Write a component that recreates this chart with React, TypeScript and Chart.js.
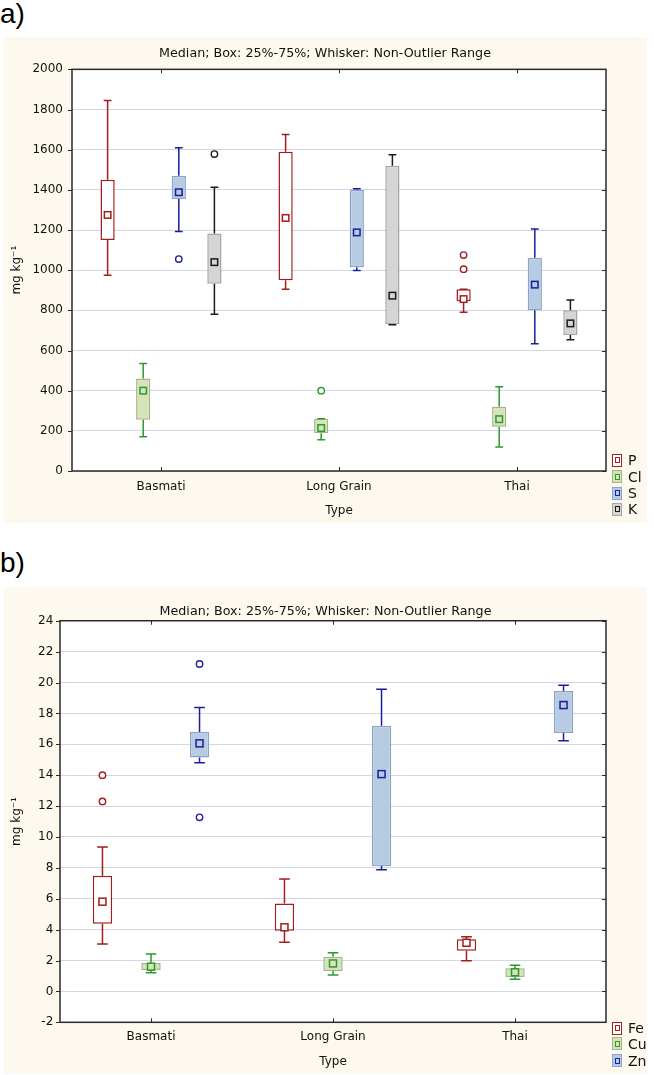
import React, { useEffect, useRef } from 'react';
import { Chart, registerables } from 'chart.js';

Chart.register(...registerables);

// ---------- data ----------
const CATEGORIES = ['Basmati', 'Long Grain', 'Thai'];
const TITLE = 'Median; Box: 25%-75%; Whisker: Non-Outlier Range';
const X_TITLE = 'Type';
const Y_TITLE = 'mg kg\u207B\u00B9';

// each row: [lower whisker, Q1, median, Q3, upper whisker] per category
const P_STATS = [[975, 1150, 1275, 1450, 1845], [905, 950, 1260, 1590, 1675], [790, 845, 856, 905, 905]];
const P_OUTLIERS = [[], [], [1075, 1005]];
const CL_STATS = [[170, 255, 400, 460, 535], [155, 188, 214, 260, 260], [120, 220, 258, 320, 420]];
const CL_OUTLIERS = [[], [400], []];
const S_STATS = [[1193, 1354, 1388, 1470, 1610], [998, 1015, 1188, 1400, 1405], [633, 800, 928, 1062, 1205]];
const S_OUTLIERS = [[1055], [], []];
const K_STATS = [[780, 932, 1040, 1183, 1413], [728, 731, 873, 1520, 1575], [653, 677, 735, 800, 852]];
const K_OUTLIERS = [[1578], [], []];

const FE_STATS = [[3.07, 4.38, 5.81, 7.49, 9.35], [3.18, 3.93, 4.15, 5.7, 7.28], [1.99, 2.63, 3.15, 3.37, 3.54]];
const FE_OUTLIERS = [[14.0, 12.3], [], []];
const CU_STATS = [[1.21, 1.38, 1.6, 1.84, 2.42], [1.06, 1.32, 1.81, 2.24, 2.5], [0.79, 0.94, 1.24, 1.5, 1.7]];
const CU_OUTLIERS = [[], [], []];
const ZN_STATS = [[14.81, 15.15, 16.06, 16.79, 18.39], [7.88, 8.12, 14.07, 17.2, 19.56], [16.23, 16.73, 18.54, 19.45, 19.82]];
const ZN_OUTLIERS = [[21.2, 11.27], [], []];

const A_Y = { min: 0, max: 2000, step: 200 };
const B_Y = { min: -2, max: 24, step: 2 };

// ---------- styles ----------
const FONT = "'DejaVu Sans', sans-serif";
const RED = { line: '#a31d1d', fill: '#ffffff', border: '#a31d1d' };
const GREEN = { line: '#2c9a2c', fill: '#d6e3bb', border: '#a3b48b' };
const BLUE = { line: '#1d1d9e', fill: '#b7cbe3', border: '#8aa4c8' };
const BLACK = { line: '#1a1a1a', fill: '#d5d5d5', border: '#a6a6a6' };

type Style = { line: string; fill: string; border: string };
type Series = { label: string; stats: number[][]; outliers: number[][]; style: Style };

const SERIES_A: Series[] = [
  { label: 'P', stats: P_STATS, outliers: P_OUTLIERS, style: RED },
  { label: 'Cl', stats: CL_STATS, outliers: CL_OUTLIERS, style: GREEN },
  { label: 'S', stats: S_STATS, outliers: S_OUTLIERS, style: BLUE },
  { label: 'K', stats: K_STATS, outliers: K_OUTLIERS, style: BLACK },
];
const SERIES_B: Series[] = [
  { label: 'Fe', stats: FE_STATS, outliers: FE_OUTLIERS, style: RED },
  { label: 'Cu', stats: CU_STATS, outliers: CU_OUTLIERS, style: GREEN },
  { label: 'Zn', stats: ZN_STATS, outliers: ZN_OUTLIERS, style: BLUE },
];

const boxPlugin = {
  id: 'boxDecor',
  beforeDraw(chart: any) {
    const { ctx, chartArea: a } = chart;
    ctx.save();
    ctx.fillStyle = '#ffffff';
    ctx.fillRect(a.left, a.top, a.right - a.left, a.bottom - a.top);
    ctx.restore();
  },
  afterDatasetsDraw(chart: any, _args: any, opts: any) {
    const { ctx } = chart;
    const y = chart.scales.y;
    const series: Series[] = opts.series;
    const mSize: number = opts.medianSize;
    ctx.save();
    series.forEach((s, i) => {
      const meta = chart.getDatasetMeta(i);
      meta.data.forEach((el: any, j: number) => {
        const st = s.stats[j];
        const x = el.x;
        const half = (el.width * 0.55) / 2;
        const pMin = y.getPixelForValue(st[0]);
        const pQ1 = y.getPixelForValue(st[1]);
        const pMed = y.getPixelForValue(st[2]);
        const pQ3 = y.getPixelForValue(st[3]);
        const pMax = y.getPixelForValue(st[4]);
        ctx.strokeStyle = s.style.line;
        ctx.lineWidth = 1.5;
        ctx.beginPath();
        ctx.moveTo(x, pQ3);
        ctx.lineTo(x, pMax);
        ctx.moveTo(x - half, pMax);
        ctx.lineTo(x + half, pMax);
        ctx.moveTo(x, pQ1);
        ctx.lineTo(x, pMin);
        ctx.moveTo(x - half, pMin);
        ctx.lineTo(x + half, pMin);
        ctx.stroke();
        // median marker
        ctx.fillStyle = s.style.fill;
        ctx.fillRect(x - mSize / 2, pMed - mSize / 2, mSize, mSize);
        ctx.lineWidth = 1.5;
        ctx.strokeRect(x - mSize / 2, pMed - mSize / 2, mSize, mSize);
        // outliers
        s.outliers[j].forEach((v) => {
          const py = y.getPixelForValue(v);
          ctx.beginPath();
          ctx.arc(x, py, 3.2, 0, Math.PI * 2);
          ctx.fillStyle = '#ffffff';
          ctx.fill();
          ctx.lineWidth = 1.4;
          ctx.stroke();
        });
      });
    });
    ctx.restore();
  },
  afterDraw(chart: any) {
    const { ctx, chartArea: a } = chart;
    const y = chart.scales.y;
    const xs = chart.scales.x;
    ctx.save();
    ctx.strokeStyle = '#2a2a2a';
    ctx.lineWidth = 1.5;
    ctx.strokeRect(a.left, a.top, a.right - a.left, a.bottom - a.top);
    ctx.lineWidth = 1;
    ctx.beginPath();
    y.ticks.forEach((t: any) => {
      const py = Math.round(y.getPixelForValue(t.value)) + 0.5;
      ctx.moveTo(a.left - 4, py);
      ctx.lineTo(a.left, py);
      ctx.moveTo(a.right - 4, py);
      ctx.lineTo(a.right, py);
    });
    CATEGORIES.forEach((_c, i) => {
      const px = Math.round(xs.getPixelForValue(i)) + 0.5;
      ctx.moveTo(px, a.bottom);
      ctx.lineTo(px, a.bottom - 4);
      ctx.moveTo(px, a.top);
      ctx.lineTo(px, a.top + 4);
    });
    ctx.stroke();
    ctx.restore();
  },
};

type Geo = {
  width: number;
  height: number;
  yAxisWidth: number;
  xAxisHeight: number;
  rightSpace: number;
  titleTop: number;
  titleBottom: number;
  yTickPad: number;
  yTitlePad: number;
  xTickPad: number;
  xTitleBottom: number;
  medianSize: number;
};

function BoxPanel({ series, yr, geo }: { series: Series[]; yr: { min: number; max: number; step: number }; geo: Geo }) {
  const ref = useRef<HTMLCanvasElement | null>(null);
  useEffect(() => {
    if (!ref.current) return;
    const chart = new Chart(ref.current, {
      type: 'bar',
      data: {
        labels: CATEGORIES,
        datasets: series.map((s) => ({
          label: s.label,
          data: s.stats.map((st) => [st[1], st[3]]),
          backgroundColor: s.style.fill,
          borderColor: s.style.border,
          borderWidth: 1.5,
          borderSkipped: false,
          barPercentage: 0.4,
          categoryPercentage: 0.8,
        })) as any,
      },
      options: {
        responsive: false,
        animation: false,
        devicePixelRatio: 1,
        layout: { padding: 0 },
        plugins: {
          legend: { display: false },
          tooltip: { enabled: false },
          title: {
            display: true,
            text: TITLE,
            color: '#111',
            font: { family: FONT, size: 12.7, weight: 'normal' },
            padding: { top: geo.titleTop, bottom: geo.titleBottom },
          },
          boxDecor: { series, medianSize: geo.medianSize },
        } as any,
        scales: {
          x: {
            type: 'category',
            grid: { display: false, drawTicks: false },
            border: { display: false },
            ticks: { color: '#111', font: { family: FONT, size: 12 }, padding: geo.xTickPad, maxRotation: 0 },
            title: {
              display: true,
              text: X_TITLE,
              color: '#111',
              font: { family: FONT, size: 12 },
              padding: { top: 0, bottom: geo.xTitleBottom },
            },
            afterFit: (s: any) => {
              s.height = geo.xAxisHeight;
            },
          },
          y: {
            min: yr.min,
            max: yr.max,
            grid: { color: '#d3d6e4', lineWidth: 1, drawTicks: false },
            border: { display: false },
            ticks: {
              stepSize: yr.step,
              color: '#111',
              font: { family: FONT, size: 12 },
              padding: geo.yTickPad,
              callback: (v: any) => String(v),
            },
            title: {
              display: true,
              text: Y_TITLE,
              color: '#111',
              font: { family: FONT, size: 12 },
              padding: { top: geo.yTitlePad, bottom: 0 },
            },
            afterFit: (s: any) => {
              s.width = geo.yAxisWidth;
            },
          },
          spacer: {
            type: 'linear',
            position: 'right',
            display: true,
            grid: { display: false, drawTicks: false },
            border: { display: false },
            ticks: { display: false },
            afterFit: (s: any) => {
              s.width = geo.rightSpace;
            },
          },
        } as any,
      },
      plugins: [boxPlugin],
    });
    return () => chart.destroy();
  }, []);
  return <canvas ref={ref} width={geo.width} height={geo.height} style={{ position: 'absolute', left: 0, top: 0 }} />;
}

function Legend({ series, left, tops }: { series: Series[]; left: number; tops: number[] }) {
  return (
    <>
      {series.map((s, i) => (
        <div key={s.label} style={{ position: 'absolute', left, top: tops[i] - 8, height: 16, display: 'flex', alignItems: 'center' }}>
          <div
            style={{
              width: 10,
              height: 13,
              boxSizing: 'border-box',
              border: `1.5px solid ${s.style.border}`,
              background: s.style.fill,
              display: 'flex',
              alignItems: 'center',
              justifyContent: 'center',
            }}
          >
            <div style={{ width: 5, height: 6, boxSizing: 'border-box', border: `1.5px solid ${s.style.line}` }} />
          </div>
          <span style={{ marginLeft: 6, fontFamily: FONT, fontSize: 14, color: '#111', lineHeight: '16px' }}>{s.label}</span>
        </div>
      ))}
    </>
  );
}

const CREAM = '#fdf9ee';

export default function App() {
  return (
    <div style={{ position: 'absolute', left: 0, top: 0, width: 654, height: 1075, background: '#fff', overflow: 'hidden' }}>
      <div style={{ position: 'absolute', left: 0, top: 0, fontFamily: "'Liberation Sans', Arial, sans-serif", fontSize: 28, lineHeight: '28px', color: '#000' }}>a)</div>
      <div style={{ position: 'absolute', left: 3, top: 37, width: 644, height: 486, background: CREAM }}>
        <BoxPanel
          series={SERIES_A}
          yr={A_Y}
          geo={{
            width: 644,
            height: 486,
            yAxisWidth: 69,
            xAxisHeight: 52,
            rightSpace: 41,
            titleTop: 8.6,
            titleBottom: 8.5,
            yTickPad: 9,
            yTitlePad: 7,
            xTickPad: 8.5,
            xTitleBottom: 4.8,
            medianSize: 6.5,
          }}
        />
        <Legend series={SERIES_A} left={609} tops={[423, 439.7, 456.3, 472.3]} />
      </div>
      <div style={{ position: 'absolute', left: 0, top: 549, fontFamily: "'Liberation Sans', Arial, sans-serif", fontSize: 28, lineHeight: '28px', color: '#000' }}>b)</div>
      <div style={{ position: 'absolute', left: 4, top: 587, width: 643, height: 487, background: CREAM }}>
        <BoxPanel
          series={SERIES_B}
          yr={B_Y}
          geo={{
            width: 643,
            height: 487,
            yAxisWidth: 56,
            xAxisHeight: 51.7,
            rightSpace: 41,
            titleTop: 17,
            titleBottom: 1.5,
            yTickPad: 6.7,
            yTitlePad: 6,
            xTickPad: 7.8,
            xTitleBottom: 5.1,
            medianSize: 7,
          }}
        />
        <Legend series={SERIES_B} left={608} tops={[441, 456.7, 473.7]} />
      </div>
    </div>
  );
}
